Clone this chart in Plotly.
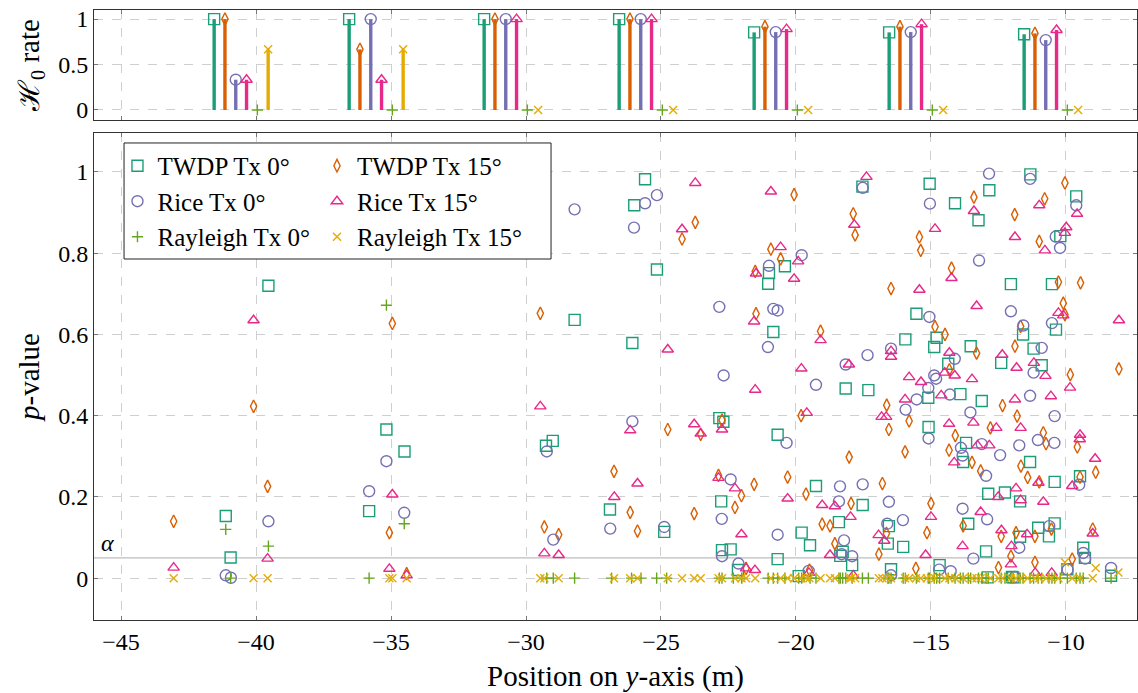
import plotly.graph_objects as go

# ---------------------------------------------------------------- data
ALPHA = 0.05
x_ticks = [-45, -40, -35, -30, -25, -20, -15, -10]
p_ticks = [0, 0.2, 0.4, 0.6, 0.8, 1]
rate_ticks = [0, 0.5, 1]

# (position on y-axis [m], p-value)
twdp0_pts = [
    (-41.12, 0.153), (-40.94, 0.051), (-39.54, 0.720),
    (-35.81, 0.165), (-35.17, 0.366), (-34.50, 0.312),
    (-29.26, 0.326), (-29.01, 0.338), (-28.20, 0.636),
    (-26.89, 0.169), (-26.06, 0.579), (-25.99, 0.918), (-25.59, 0.982), (-25.15, 0.760), (-24.88, 0.114),
    (-22.84, 0.394), (-22.77, 0.189), (-22.74, 0.069), (-22.69, 0.385), (-22.42, 0.071), (-22.15, 0.020),
    (-21.03, 0.725), (-21.00, 0.751), (-20.84, 0.606), (-20.68, 0.353), (-20.68, 0.047), (-20.41, 0.768),
    (-19.90, 0.005), (-19.79, 0.112), (-19.48, 0.081), (-19.26, 0.227),
    (-18.41, 0.138), (-18.36, 0.055), (-18.27, 0.065), (-18.16, 0.467), (-17.92, 0.032), (-17.54, 0.964),
    (-17.53, 0.180), (-17.32, 0.463),
    (-16.60, 0.085), (-16.56, 0.128), (-16.48, 0.022), (-16.03, 0.077), (-15.95, 0.588), (-15.54, 0.651),
    (-15.10, 0.444), (-15.09, 0.372), (-15.05, 0.971), (-14.88, 0.569), (-14.79, 0.592), (-14.68, 0.032),
    (-14.36, 0.528), (-14.11, 0.923),
    (-13.91, 0.453), (-13.81, 0.286), (-13.70, 0.333), (-13.62, 0.134), (-13.53, 0.571), (-13.24, 0.881),
    (-13.12, 0.436), (-12.96, 0.066), (-12.90, 0.002), (-12.88, 0.208), (-12.84, 0.955),
    (-12.40, 0.530), (-12.26, 0.211), (-12.04, 0.724), (-12.00, 0.003), (-11.96, 0.002), (-11.70, 0.189),
    (-11.70, 0.102), (-11.59, 0.600),
    (-11.33, 0.286), (-11.32, 0.994), (-11.20, 0.565), (-11.03, 0.124), (-10.90, 0.524), (-10.63, 0.103),
    (-10.52, 0.724), (-10.42, 0.237), (-10.42, 0.135), (-10.37, 0.612), (-10.21, 0.842),
    (-9.95, 0.022), (-9.62, 0.940), (-9.48, 0.251), (-9.36, 0.075), (-9.30, 0.050), (-8.33, 0.006),
]

twdp15_pts = [
    (-43.05, 0.140), (-40.09, 0.423), (-39.57, 0.226),
    (-35.06, 0.112), (-34.95, 0.627), (-34.42, 0.011),
    (-29.47, 0.652), (-29.32, 0.126), (-28.79, 0.107),
    (-26.74, 0.263), (-26.14, 0.162), (-25.87, 0.116), (-24.75, 0.366), (-24.22, 0.835), (-23.77, 0.159),
    (-23.73, 0.876), (-23.53, 0.354),
    (-22.87, 0.253), (-22.74, 0.389), (-22.26, 0.174), (-22.02, 0.203), (-21.85, 0.024), (-21.55, 0.231),
    (-21.51, 0.755), (-21.48, 0.651), (-20.93, 0.810), (-20.57, 0.786), (-20.31, 0.249), (-20.07, 0.944),
    (-19.81, 0.400), (-19.63, 0.207), (-19.50, 0.020), (-19.09, 0.608), (-19.03, 0.133), (-18.74, 0.129),
    (-18.56, 0.085), (-18.03, 0.298), (-17.96, 0.184), (-17.88, 0.897), (-17.81, 0.845),
    (-16.93, 0.059), (-16.80, 0.233), (-16.65, 0.110), (-16.64, 0.426), (-16.56, 0.366), (-16.48, 0.713),
    (-15.96, 0.311), (-15.81, 0.387), (-15.56, 0.024), (-15.43, 0.840), (-15.38, 0.807), (-15.15, 0.112),
    (-15.00, 0.184), (-14.85, 0.619), (-14.48, 0.600), (-14.33, 0.315), (-14.32, 0.513), (-14.24, 0.763),
    (-14.10, 0.351),
    (-13.81, 0.129), (-13.48, 0.285), (-13.41, 0.938), (-13.31, 0.554), (-13.16, 0.264), (-12.80, 0.370),
    (-12.50, 0.026), (-12.40, 0.103), (-12.35, 0.425), (-12.04, 0.054), (-11.90, 0.895), (-11.89, 0.571),
    (-11.85, 0.112), (-11.81, 0.399), (-11.68, 0.620), (-11.67, 0.276), (-11.42, 0.248), (-11.15, 0.103),
    (-11.15, 0.039), (-10.99, 0.829), (-10.99, 0.237), (-10.84, 0.358), (-10.79, 0.934), (-10.74, 0.331),
    (-10.54, 0.121), (-10.28, 0.729), (-10.10, 0.677), (-10.04, 0.973), (-10.04, 0.649), (-9.84, 0.501),
    (-9.77, 0.047), (-9.58, 0.323), (-9.48, 0.249), (-9.46, 0.727), (-9.01, 0.121), (-8.90, 0.261),
    (-8.04, 0.515),
]

rice0_pts = [
    (-41.12, 0.007), (-40.93, 0.001), (-39.54, 0.140),
    (-35.81, 0.214), (-35.17, 0.288), (-34.51, 0.161),
    (-29.23, 0.312), (-28.99, 0.095), (-28.20, 0.908),
    (-26.88, 0.122), (-26.06, 0.386), (-26.00, 0.863), (-25.59, 0.923), (-25.15, 0.943), (-24.88, 0.126),
    (-22.84, 0.668), (-22.75, 0.146), (-22.74, 0.054), (-22.68, 0.499), (-22.42, 0.243), (-22.13, 0.036),
    (-21.04, 0.569), (-21.00, 0.769), (-20.84, 0.663), (-20.68, 0.659), (-20.68, 0.107), (-20.35, 0.333),
    (-19.79, 0.795), (-19.53, 0.018), (-19.26, 0.476),
    (-18.41, 0.189), (-18.37, 0.226), (-18.31, 0.059), (-18.22, 0.093), (-18.16, 0.526), (-17.92, 0.054),
    (-17.53, 0.961), (-17.53, 0.231), (-17.35, 0.549),
    (-16.62, 0.134), (-16.56, 0.188), (-16.48, 0.565), (-16.48, 0.007), (-16.04, 0.143), (-15.94, 0.415),
    (-15.53, 0.440),
    (-15.10, 0.468), (-15.09, 0.344), (-15.06, 0.643), (-15.04, 0.922), (-14.88, 0.499), (-14.81, 0.491),
    (-14.70, 0.021), (-14.30, 0.452), (-14.27, 0.017), (-14.12, 0.540),
    (-13.89, 0.321), (-13.83, 0.302), (-13.83, 0.171), (-13.54, 0.408), (-13.43, 0.048), (-13.22, 0.782),
    (-13.12, 0.330), (-12.96, 0.252), (-12.92, 0.145), (-12.85, 0.996), (-12.44, 0.303), (-12.04, 0.657),
    (-11.89, 0.003), (-11.73, 0.327), (-11.73, 0.075), (-11.58, 0.622), (-11.33, 0.983), (-11.33, 0.449),
    (-11.20, 0.506), (-11.04, 0.340), (-10.90, 0.567), (-10.62, 0.128), (-10.52, 0.628), (-10.43, 0.333),
    (-10.42, 0.399), (-10.38, 0.841), (-10.22, 0.813), (-9.94, 0.021), (-9.62, 0.918), (-9.51, 0.230),
    (-9.36, 0.062), (-9.29, 0.048), (-8.33, 0.025),
]

rice15_pts = [
    (-43.05, 0.026), (-40.09, 0.635), (-39.57, 0.048),
    (-35.06, 0.023), (-34.95, 0.206), (-34.42, 0.007),
    (-29.47, 0.423), (-29.32, 0.061), (-28.79, 0.057),
    (-26.73, 0.200), (-26.14, 0.364), (-25.87, 0.233), (-24.75, 0.563), (-24.22, 0.859), (-23.77, 0.379),
    (-23.73, 0.973), (-23.53, 0.356),
    (-22.87, 0.247), (-22.74, 0.366), (-22.26, 0.221), (-22.02, 0.108), (-21.85, 0.024), (-21.55, 0.632),
    (-21.52, 0.020), (-21.51, 0.464), (-21.48, 0.750), (-20.93, 0.952), (-20.57, 0.815), (-20.31, 0.196),
    (-20.07, 0.737),
    (-19.92, 0.780), (-19.80, 0.516), (-19.60, 0.407), (-19.52, 0.013), (-19.09, 0.586), (-19.03, 0.180),
    (-18.74, 0.057), (-18.56, 0.177), (-18.04, 0.526), (-17.98, 0.151), (-17.88, 0.007), (-17.84, 0.870),
    (-17.39, 0.988),
    (-16.94, 0.106), (-16.83, 0.397), (-16.73, 0.092), (-16.66, 0.397), (-16.48, 0.559), (-16.48, 0.545),
    (-15.96, 0.440), (-15.81, 0.495), (-15.43, 0.710), (-15.37, 0.483), (-15.20, 0.057), (-15.00, 0.151),
    (-14.85, 0.860), (-14.62, 0.450), (-14.49, 0.506), (-14.33, 0.380), (-14.32, 0.555), (-14.24, 0.739),
    (-14.14, 0.285), (-14.12, 0.499),
    (-13.83, 0.079), (-13.48, 0.490), (-13.43, 0.383), (-13.41, 0.904), (-13.31, 0.670), (-13.28, 0.327),
    (-13.16, 0.163), (-12.84, 0.327), (-12.58, 0.370), (-12.51, 0.200), (-12.39, 0.118), (-12.36, 0.550),
    (-12.04, 0.034), (-12.02, 0.079), (-11.89, 0.840), (-11.89, 0.440), (-11.85, 0.221), (-11.83, 0.518),
    (-11.68, 0.370), (-11.68, 0.192), (-11.44, 0.108), (-11.19, 0.530), (-11.14, 0.013), (-11.02, 0.235),
    (-10.99, 0.918), (-10.84, 0.188), (-10.78, 0.807), (-10.76, 0.498), (-10.56, 0.448), (-10.53, 0.013),
    (-10.28, 0.653), (-10.10, 0.647), (-10.04, 0.850), (-9.99, 0.864), (-9.85, 0.469), (-9.77, 0.227),
    (-9.59, 0.897), (-9.49, 0.342), (-9.48, 0.353), (-9.01, 0.110), (-8.92, 0.294), (-8.04, 0.635),
]

rayleigh0_pts = [
    (-41.12, 0.120), (-40.94, 0.000), (-39.54, 0.079),
    (-35.81, 0.000), (-35.17, 0.672), (-34.51, 0.134),
    (-29.23, 0.0), (-28.99, 0.0), (-28.20, 0.0),
    (-26.83, 0.0), (-26.09, 0.0), (-25.74, 0.0), (-25.16, 0.0), (-24.79, 0.0),
    (-22.84, 0.0), (-22.74, 0.0), (-22.32, 0.0), (-22.01, 0.0),
    (-21.03, 0.0), (-20.84, 0.0), (-20.68, 0.0), (-20.41, 0.0),
    (-19.90, 0.0), (-19.79, 0.0), (-19.48, 0.0), (-19.26, 0.0),
    (-18.41, 0.0), (-18.36, 0.0), (-18.27, 0.0), (-18.16, 0.0), (-17.92, 0.0), (-17.54, 0.0), (-17.32, 0.0),
    (-16.60, 0.0), (-16.56, 0.0), (-16.48, 0.0), (-16.03, 0.0), (-15.95, 0.0), (-15.54, 0.0),
    (-15.10, 0.0), (-15.05, 0.0), (-14.88, 0.0), (-14.79, 0.0), (-14.68, 0.0), (-14.36, 0.0), (-14.11, 0.0),
    (-13.91, 0.0), (-13.81, 0.0), (-13.62, 0.0), (-13.53, 0.0), (-13.24, 0.0), (-13.12, 0.0), (-12.96, 0.0),
    (-12.88, 0.0), (-12.40, 0.0), (-12.26, 0.0), (-12.04, 0.0), (-11.96, 0.0), (-11.70, 0.0), (-11.59, 0.0),
    (-11.33, 0.0), (-11.20, 0.0), (-11.03, 0.0), (-10.90, 0.0), (-10.63, 0.0), (-10.52, 0.0), (-10.42, 0.0),
    (-10.21, 0.0), (-9.95, 0.0), (-9.62, 0.0), (-9.48, 0.0), (-9.36, 0.0), (-8.33, 0.0),
]

rayleigh15_pts = [
    (-43.05, 0.0), (-40.09, 0.0), (-39.57, 0.0),
    (-35.06, 0.0), (-34.95, 0.0), (-34.42, 0.0),
    (-29.47, 0.0), (-29.32, 0.0), (-28.79, 0.0),
    (-26.74, 0.0), (-26.14, 0.0), (-25.87, 0.0), (-24.75, 0.0), (-24.22, 0.0), (-23.77, 0.0), (-23.53, 0.0),
    (-22.87, 0.0), (-22.74, 0.0), (-22.26, 0.0), (-22.02, 0.0), (-21.85, 0.0), (-21.51, 0.0), (-20.93, 0.0),
    (-20.57, 0.0), (-20.31, 0.0), (-20.07, 0.0),
    (-19.81, 0.0), (-19.63, 0.0), (-19.50, 0.0), (-19.09, 0.0), (-18.74, 0.0), (-18.56, 0.0), (-18.03, 0.0),
    (-17.96, 0.0), (-17.81, 0.0),
    (-16.93, 0.0), (-16.80, 0.0), (-16.65, 0.0), (-16.48, 0.0), (-15.96, 0.0), (-15.81, 0.0), (-15.56, 0.0),
    (-15.38, 0.0), (-15.15, 0.0), (-15.00, 0.0), (-14.85, 0.0), (-14.48, 0.0), (-14.32, 0.0), (-14.10, 0.0),
    (-13.81, 0.0), (-13.48, 0.0), (-13.31, 0.0), (-13.16, 0.0), (-12.80, 0.0), (-12.50, 0.0), (-12.35, 0.0),
    (-12.04, 0.0), (-11.85, 0.0), (-11.67, 0.0), (-11.42, 0.0), (-11.15, 0.0), (-10.99, 0.0), (-10.74, 0.0),
    (-10.54, 0.0), (-10.28, 0.0), (-10.04, 0.039), (-9.77, 0.0), (-9.48, 0.0), (-9.01, 0.0),
    (-8.90, 0.025), (-8.06, 0.014),
]

# H0 acceptance rate per block of positions (upper panel)
group_pos = [-40.55, -35.55, -30.55, -25.55, -20.55, -15.55, -10.55]
stem_offsets = [-1.0, -0.6, -0.2, 0.2, 0.6, 1.0]
h0_twdp0 = [1.0, 1.0, 1.0, 1.0, 0.854, 0.854, 0.833]
h0_twdp15 = [1.0, 0.667, 1.0, 1.0, 0.917, 0.917, 0.843]
h0_rice0 = [0.333, 1.0, 1.0, 1.0, 0.857, 0.857, 0.769]
h0_rice15 = [0.333, 0.333, 1.0, 1.0, 0.89, 0.944, 0.88]
h0_rayleigh0 = [0.0, 0.0, 0.0, 0.0, 0.0, 0.0, 0.0]
h0_rayleigh15 = [0.667, 0.667, 0.0, 0.0, 0.0, 0.0, 0.0]

series = [
    dict(name="TWDP Tx 0°", pts=twdp0_pts, h0=h0_twdp0, color="#1b9e77",
         symbol="square-open", size=11, legend="legend"),
    dict(name="TWDP Tx 15°", pts=twdp15_pts, h0=h0_twdp15, color="#d95f02",
         symbol="diamond-tall-open", size=9, legend="legend2"),
    dict(name="Rice Tx 0°", pts=rice0_pts, h0=h0_rice0, color="#7570b3",
         symbol="circle-open", size=11, legend="legend"),
    dict(name="Rice Tx 15°", pts=rice15_pts, h0=h0_rice15, color="#e7298a",
         symbol="triangle-up-open", size=10, legend="legend2"),
    dict(name="Rayleigh Tx 0°", pts=rayleigh0_pts, h0=h0_rayleigh0, color="#66a61e",
         symbol="cross-thin-open", size=8, legend="legend"),
    dict(name="Rayleigh Tx 15°", pts=rayleigh15_pts, h0=h0_rayleigh15, color="#e6ab02",
         symbol="x-thin-open", size=8, legend="legend2"),
]

# ---------------------------------------------------------------- figure
fig = go.Figure()

for k, s in enumerate(series):
    marker = dict(symbol=s["symbol"], size=s["size"], color=s["color"],
                  line=dict(color=s["color"], width=1.4))

    # stems of the H0-rate panel
    xs = [g + stem_offsets[k] for g in group_pos]
    stem_x, stem_y = [], []
    for x, v in zip(xs, s["h0"]):
        stem_x += [x, x, None]
        stem_y += [0, v, None]
    fig.add_trace(go.Scatter(x=stem_x, y=stem_y, mode="lines",
                             line=dict(color=s["color"], width=3.4),
                             xaxis="x2", yaxis="y2", showlegend=False,
                             hoverinfo="skip"))
    fig.add_trace(go.Scatter(x=xs, y=s["h0"], mode="markers", marker=marker,
                             xaxis="x2", yaxis="y2", showlegend=False,
                             name=s["name"]))

    # p-values per position
    px = [p[0] for p in s["pts"]]
    pv = [p[1] for p in s["pts"]]
    fig.add_trace(go.Scatter(x=px, y=pv, mode="markers", marker=marker,
                             name=s["name"], legend=s["legend"],
                             xaxis="x", yaxis="y"))

font_family = "Liberation Serif, Times New Roman, DejaVu Serif, serif"
text_font = dict(family=font_family, size=24, color="black")
title_font = dict(family=font_family, size=29, color="black")

axis_common = dict(
    showline=True, linecolor="#333333", linewidth=1, mirror="ticks",
    ticks="inside", ticklen=4, tickcolor="#777777",
    showgrid=True, gridcolor="#cfcfcf", griddash="dash", gridwidth=1,
    zeroline=False, tickfont=text_font,
)

fig.update_layout(
    width=1138, height=693,
    margin=dict(l=94, r=1, t=10, b=73),
    paper_bgcolor="white", plot_bgcolor="white",
    font=text_font,
    xaxis=dict(domain=[0, 1], anchor="y", range=[-46.0, -7.37], tickvals=x_ticks,
               title=dict(text="Position on <i>y</i>-axis (m)", standoff=12,
                          font=title_font),
               **axis_common),
    yaxis=dict(domain=[0, 0.7984], range=[-0.103, 1.096], tickvals=p_ticks,
               title=dict(text="<i>p</i>-value", standoff=10, font=title_font),
               **axis_common),
    xaxis2=dict(domain=[0, 1], anchor="y2", matches="x", tickvals=x_ticks,
                showticklabels=False, **axis_common),
    yaxis2=dict(domain=[0.8197, 1], range=[-0.11, 1.1], tickvals=rate_ticks,
                title=dict(text="ℋ<sub>0</sub> rate", standoff=10, font=title_font),
                **axis_common),
    legend=dict(x=0.0225, y=0.782, xanchor="left", yanchor="top",
                bgcolor="rgba(0,0,0,0)", borderwidth=0,
                font=dict(family=font_family, size=25, color="black")),
    legend2=dict(x=0.2138, y=0.782, xanchor="left", yanchor="top",
                 bgcolor="rgba(0,0,0,0)", borderwidth=0,
                 font=dict(family=font_family, size=25, color="black")),
    shapes=[
        # significance level
        dict(type="line", xref="x domain", x0=0, x1=1, yref="y", y0=ALPHA, y1=ALPHA,
             line=dict(color="#bdbdbd", width=1.2), layer="below"),
        # legend frame
        dict(type="rect", xref="paper", yref="paper", x0=0.0288, x1=0.4382,
             y0=0.5918, y1=0.782, fillcolor="white",
             line=dict(color="#222222", width=1), layer="above"),
    ],
    annotations=[
        dict(text="<i>α</i>", x=-45.5, y=ALPHA, xref="x", yref="y",
             yanchor="bottom", showarrow=False, font=text_font),
    ],
)

fig.write_html("out.html")
